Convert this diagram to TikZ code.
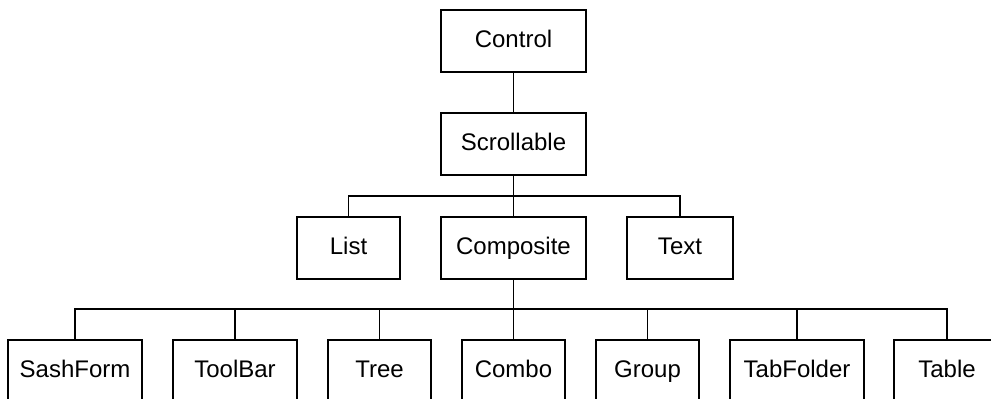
\documentclass[tikz,border=0pt]{standalone}
\usepackage{fontspec}
\setmainfont{Liberation Sans}
\begin{document}
\begin{tikzpicture}[
  x = 0.5pt, y = -0.5pt, line width = 0.85pt,
  every node/.style = {draw, minimum height = 31pt, inner sep = 0pt,
                       text height = 8.6pt, text depth = 2.4pt,
                       font = \fontsize{12}{14}\selectfont},
  cls/.style = {minimum width = #1*0.5pt}
  ]
  \useasboundingbox (0,0) rectangle (991,399);
  \node[cls=145] (control) at (513.5,41) {Control};
  \node[cls=145] (scroll) at (513.5,144) {Scrollable};
  \node[cls=103] (list) at (348.5,248) {List};
  \node[cls=145] (comp) at (513.5,248) {Composite};
  \node[cls=106] (text) at (680,248) {Text};
  \foreach \name/\x/\w/\lbl in {sash/75/134/SashForm, tool/235/124/ToolBar,
      tree/379.5/103/Tree, combo/513.5/103/Combo, group/647.5/103/Group,
      tabf/797/134/TabFolder, table/947/106/Table}
    \node[cls=\w] (\name) at (\x,371) {\lbl};
  \coordinate (barA) at (513.5,196);
  \coordinate (barB) at (513.5,309);
  \draw (control) -- (scroll);
  \draw (scroll) -- (barA);
  \foreach \n in {list, comp, text}
    \draw (barA) -| (\n.north);
  \draw (comp) -- (barB);
  \foreach \n in {sash, tool, tree, combo, group, tabf, table}
    \draw (barB) -| (\n.north);
\end{tikzpicture}
\end{document}
